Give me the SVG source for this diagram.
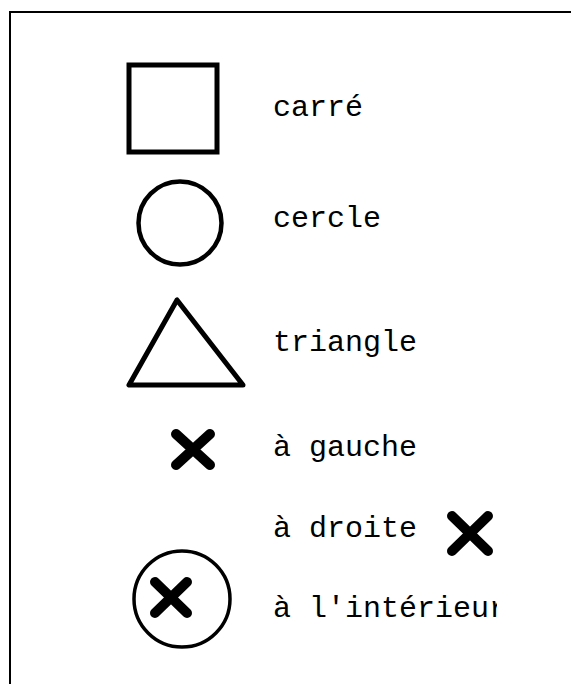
<svg xmlns="http://www.w3.org/2000/svg" width="571" height="684" viewBox="0 0 571 684">
<defs>
<style>
.lbl{font-family:"Liberation Mono","Courier New",monospace;font-size:30px;fill:#000}
.shape{fill:none;stroke:#000}
.x{fill:none;stroke:#000;stroke-width:10;stroke-linecap:round}
</style>
<clipPath id="clip"><rect x="0" y="0" width="497" height="684"/></clipPath>
</defs>
<rect x="0" y="0" width="571" height="684" fill="#fff"/>
<rect x="10" y="12" width="600" height="700" fill="none" stroke="#000" stroke-width="2"/>
<g id="carre">
<rect class="shape" x="129" y="65" width="88" height="87" stroke-width="5"/>
<text class="lbl" x="273" y="116">carré</text>
</g>
<g id="cercle">
<circle class="shape" cx="180" cy="223" r="41.5" stroke-width="4.5"/>
<text class="lbl" x="273" y="227">cercle</text>
</g>
<g id="triangle">
<polygon class="shape" points="177,300 129,385 243,385" stroke-width="5" stroke-linejoin="round"/>
<text class="lbl" x="273" y="351">triangle</text>
</g>
<g id="gauche">
<path class="x" d="M176,434 L210,465 M210,434 L176,465"/>
<text class="lbl" x="273" y="456">à gauche</text>
</g>
<g id="droite">
<text class="lbl" x="273" y="537">à droite</text>
<path class="x" d="M452,516 L488,551 M488,516 L452,551"/>
</g>
<g id="interieur">
<circle class="shape" cx="182" cy="599" r="48" stroke-width="3.5"/>
<path class="x" d="M155,582 L187,613 M187,582 L155,613"/>
<text class="lbl" x="273" y="617" clip-path="url(#clip)">à l'intérieur</text>
</g>
</svg>
